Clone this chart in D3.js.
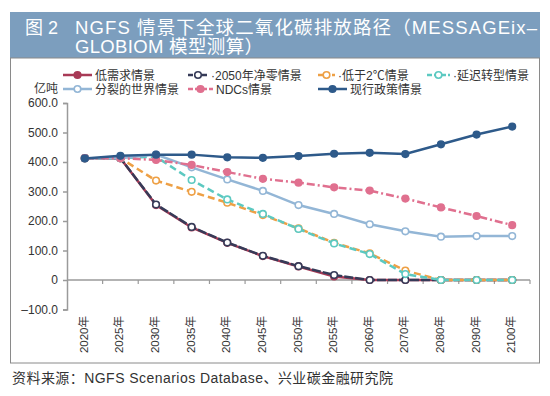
<!DOCTYPE html>
<html lang="zh">
<head>
  <meta charset="UTF-8">
  <title>NGFS 情景下全球二氧化碳排放路径</title>
  <script src="https://d3js.org/d3.v7.min.js"></script>
  <style>
    body { margin: 0; background: #fff; }
    svg { display: block; font-family: "Liberation Sans", "Noto Sans CJK SC", sans-serif; }
  </style>
</head>
<body>
<svg width="550" height="396"></svg>
<script>
  // data (亿吨)
  const years = ["2020年", "2025年", "2030年", "2035年", "2040年", "2045年", "2050年",
    "2055年", "2060年", "2070年", "2080年", "2090年", "2100年"]
  const lowDemand = [413, 413, 254, 178, 126, 81, 46, 12, 0, 0, 0, 0, 0]
  const netZero2050 = [413, 413, 256, 180, 127, 82, 47, 17, 0, 0, 0, 0, 0]
  const below2C = [413, 413, 337, 299, 262, 220, 175, 126, 90, 32, 0, 0, 0]
  const delayed = [413, 413, 418, 339, 273, 224, 173, 124, 88, 20, 0, 0, 0]
  const fragmented = [413, 413, 425, 382, 341, 302, 254, 224, 189, 165, 147, 149, 149]
  const ndcs = [413, 413, 407, 390, 366, 343, 330, 314, 303, 276, 246, 217, 186]
  const currentPolicy = [412, 421, 425, 425, 416, 414, 420, 428, 431, 427, 460, 493, 520]
  const yTicks = [-100, 0, 100, 200, 300, 400, 500, 600]

  const series = [
    { name: "低需求情景", values: lowDemand, color: "#a83a56", dash: null, fill: "#a83a56" },
    { name: "·2050年净零情景", values: netZero2050, color: "#363b58", dash: "9,2", fill: "#fff" },
    { name: "·低于2℃情景", values: below2C, color: "#eea045", dash: "7,4", fill: "#fff" },
    { name: "·延迟转型情景", values: delayed, color: "#5cc9c1", dash: "7,4", fill: "#fff" },
    { name: "分裂的世界情景", values: fragmented, color: "#93b6d6", dash: null, fill: "#fff" },
    { name: "NDCs情景", values: ndcs, color: "#e0708f", dash: "8,3,2,3", fill: "#e0708f" },
    { name: "现行政策情景", values: currentPolicy, color: "#2e5a8a", dash: null, fill: "#2e5a8a" }
  ]

  const svg = d3.select("svg")

  // title bar
  svg.append("rect").attr("x", 10).attr("y", 12).attr("width", 530).attr("height", 46)
    .attr("fill", "#7c9ebe")
  svg.append("text").attr("x", 25).attr("y", 34).attr("fill", "#fff")
    .attr("font-size", 18).text("图 2")
  svg.append("text").attr("x", 75).attr("y", 34).attr("fill", "#fff")
    .attr("font-size", 18.5).attr("textLength", 462).attr("lengthAdjust", "spacing")
    .text("NGFS 情景下全球二氧化碳排放路径（MESSAGEix–")
  svg.append("text").attr("x", 75).attr("y", 53).attr("fill", "#fff")
    .attr("font-size", 18.5).attr("textLength", 188).attr("lengthAdjust", "spacing")
    .text("GLOBIOM 模型测算）")

  // panel
  svg.append("rect").attr("x", 10.5).attr("y", 58).attr("width", 529).attr("height", 305)
    .attr("fill", "none").attr("stroke", "#8a8a8a").attr("stroke-width", 1)

  svg.append("text").attr("x", 12).attr("y", 383).attr("fill", "#333")
    .attr("font-size", 14).attr("textLength", 381).attr("lengthAdjust", "spacing")
    .text("资料来源：NGFS Scenarios Database、兴业碳金融研究院")

  const x = d3.scaleBand().domain(years).range([67, 530]).padding(0)
  const cx = d => x(d) + x.bandwidth() / 2
  const y = d3.scaleLinear().domain([-100, 600]).range([309.5, 103])

  // y axis
  const yAxis = svg.append("g").attr("transform", "translate(67,0)")
    .call(d3.axisLeft(y).tickValues(yTicks).tickSize(4).tickPadding(5)
      .tickFormat(d => d === 0 ? "0" : d.toFixed(1).replace("-", "–")))
  yAxis.selectAll("path, line").attr("stroke", "#9a9a9a").attr("stroke-width", 1.5)
  yAxis.selectAll("text").attr("font-size", 12).attr("fill", "#333")
    .attr("font-family", "Liberation Sans, sans-serif")
  svg.append("text").attr("x", 34).attr("y", 93).attr("font-size", 12).attr("fill", "#333")
    .text("亿吨")

  // x axis at zero
  const xAxis = svg.append("g").attr("transform", `translate(0,${y(0)})`)
  xAxis.append("line").attr("x1", 67).attr("x2", 530)
    .attr("stroke", "#9a9a9a").attr("stroke-width", 1.5)
  xAxis.selectAll(".tk").data(years.slice(1).map(x).concat([530])).join("line")
    .attr("class", "tk").attr("x1", d => d).attr("x2", d => d).attr("y1", 0).attr("y2", 4)
    .attr("stroke", "#9a9a9a").attr("stroke-width", 1.2)

  svg.append("g").selectAll("text").data(years).join("text")
    .attr("transform", d => `translate(${cx(d) + 3},316) rotate(-90)`)
    .attr("text-anchor", "end").attr("font-size", 11.5).attr("fill", "#333")
    .text(d => d)

  // lines
  const line = d3.line().x((d, i) => cx(years[i])).y(d => y(d))
  const g = svg.append("g")
  series.forEach(s => {
    g.append("path").datum(s.values).attr("d", line)
      .attr("fill", "none").attr("stroke", s.color).attr("stroke-width", 2.5)
      .attr("stroke-dasharray", s.dash)
    g.append("g").selectAll("circle").data(s.values).join("circle")
      .attr("cx", (d, i) => cx(years[i])).attr("cy", d => y(d))
      .attr("r", 3.3).attr("fill", s.fill).attr("stroke", s.color).attr("stroke-width", 1.6)
  })

  // legend
  const legendPos = [[63, 75], [188, 75], [318, 75], [427, 75], [63, 89], [188, 89], [318, 89]]
  const legendLen = [29, 20, 17, 23, 29, 25, 29]
  series.forEach((s, i) => {
    const [lx, ly] = legendPos[i]
    const lg = svg.append("g")
    lg.append("line").attr("x1", lx).attr("x2", lx + legendLen[i]).attr("y1", ly).attr("y2", ly)
      .attr("stroke", s.color).attr("stroke-width", 2.5)
      .attr("stroke-dasharray", s.dash ? "5,2" : null)
    lg.append("circle").attr("cx", lx + legendLen[i] / 2).attr("cy", ly).attr("r", 3.3)
      .attr("fill", s.fill).attr("stroke", s.color).attr("stroke-width", 1.6)
    lg.append("text").attr("x", lx + legendLen[i] + 3).attr("y", ly + 4.5)
      .attr("font-size", 12).attr("fill", "#333").text(s.name)
  })
</script>
</body>
</html>
